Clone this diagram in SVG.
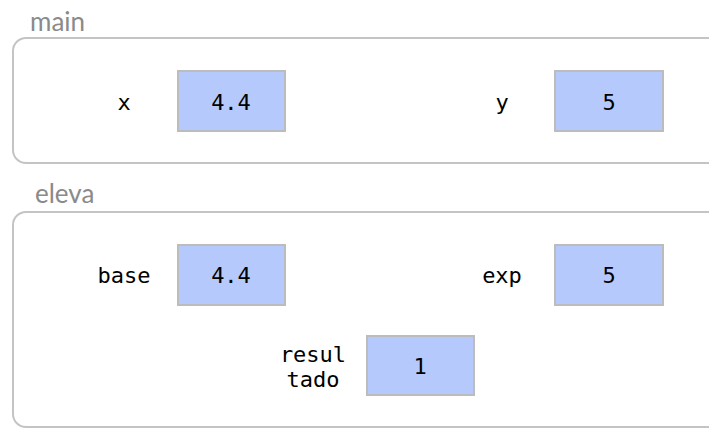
<svg xmlns="http://www.w3.org/2000/svg" width="709" height="428" viewBox="0 0 709 428">
<style>
.frame{fill:#fff;stroke:#c4c4c4;stroke-width:2}
.title{font-family:"Lato","Liberation Sans",sans-serif;font-size:26px;fill:#8a8a8a}
.box{fill:#b6c9fd;stroke:#bcbcbc;stroke-width:2}
.t{font-family:"DejaVu Sans Mono","Liberation Mono",monospace;font-size:22px;fill:#000;text-anchor:middle}
</style>
<rect width="709" height="428" fill="#fff"/>
<g id="main">
<text class="title" x="30" y="31">main</text>
<rect class="frame" x="13" y="38" width="708" height="125" rx="13"/>
</g>
<g id="var-x">
<text class="t" x="124" y="110">x</text>
<rect class="box" x="178" y="71" width="107" height="60"/>
<text class="t" x="231" y="110">4.4</text>
</g>
<g id="var-y">
<text class="t" x="502" y="110">y</text>
<rect class="box" x="555" y="71" width="108" height="60"/>
<text class="t" x="609" y="110">5</text>
</g>
<g id="eleva">
<text class="title" x="35" y="203">eleva</text>
<rect class="frame" x="13" y="212" width="708" height="215" rx="13"/>
</g>
<g id="var-base">
<text class="t" x="124" y="283">base</text>
<rect class="box" x="178" y="245" width="107" height="60"/>
<text class="t" x="231" y="283">4.4</text>
</g>
<g id="var-exp">
<text class="t" x="502" y="283">exp</text>
<rect class="box" x="555" y="245" width="108" height="60"/>
<text class="t" x="609" y="283">5</text>
</g>
<g id="var-resultado">
<text class="t" x="313" y="362">resul</text>
<text class="t" x="313" y="387">tado</text>
<rect class="box" x="367" y="336" width="107" height="59"/>
<text class="t" x="420" y="374">1</text>
</g>
<g id="connectors"></g>
</svg>
